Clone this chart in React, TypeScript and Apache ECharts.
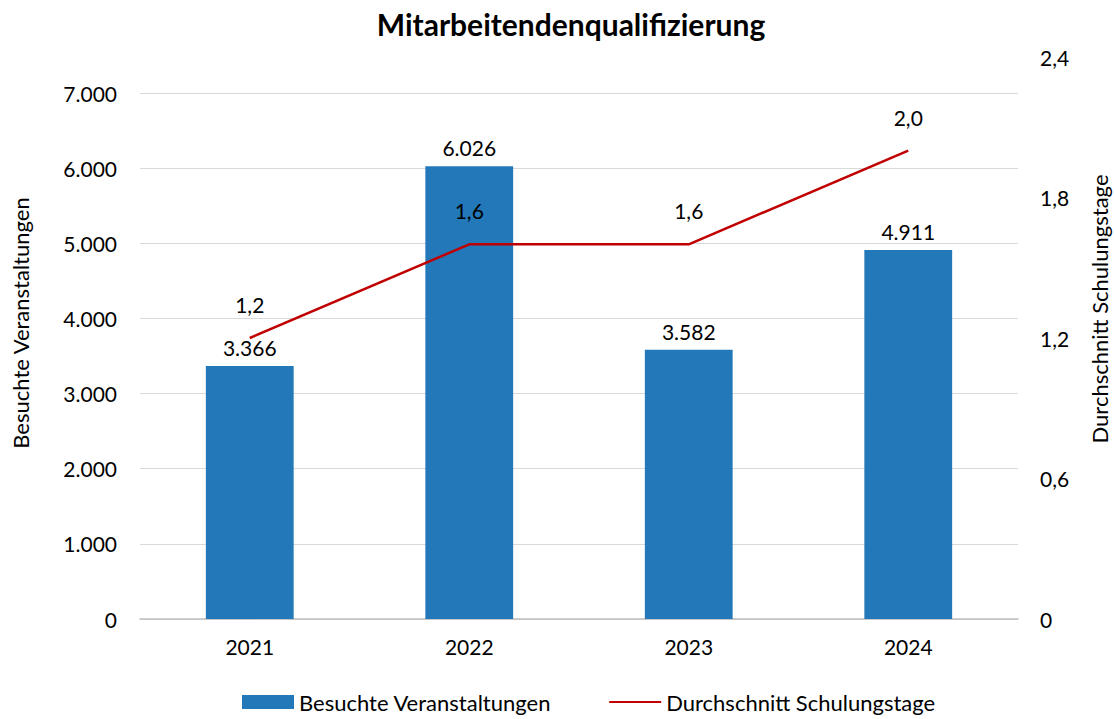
import React, { useEffect, useRef } from "react";
import * as echarts from "echarts";

const title = "Mitarbeitendenqualifizierung";
const years = ["2021", "2022", "2023", "2024"];
const barName = "Besuchte Veranstaltungen";
const lineName = "Durchschnitt Schulungstage";
const visits = [3366, 6026, 3582, 4911];
const trainingDays = [1.2, 1.6, 1.6, 2.0];

const FONT = "Lato, 'Open Sans', sans-serif";

export default function App() {
  const ref = useRef<HTMLDivElement>(null);
  useEffect(() => {
    document.body.style.margin = "0";
    const chart = echarts.init(ref.current!, null, { renderer: "svg" });
    const fmtThousands = (v: number) =>
      Math.round(v).toString().replace(/\B(?=(\d{3})+(?!\d))/g, ".");
    const fmtDec = (v: number) => v.toFixed(1).replace(".", ",");
    chart.setOption({
      animation: false,
      textStyle: { fontFamily: FONT, color: "#000" },
      title: {
        text: title,
        left: 566,
        textAlign: "center",
        top: 4,
        textStyle: { fontFamily: FONT, fontWeight: "bold", fontSize: 30, color: "#000" },
      },
      grid: [
        { left: 140, right: 96, top: 93, bottom: 100 },
        { left: 140, right: 96, top: 57, bottom: 100 },
      ],
      legend: {
        bottom: 1,
        left: 237,
        itemWidth: 52,
        itemHeight: 14,
        itemGap: 57,
        textStyle: { fontFamily: FONT, fontSize: 22, color: "#000" },
        data: [
          { name: barName, icon: "rect" },
          { name: lineName, itemStyle: { opacity: 0 } },
        ],
      },
      xAxis: [
        {
          type: "category",
          gridIndex: 0,
          data: years,
          axisLine: { lineStyle: { color: "#bfbfbf", width: 1.5 } },
          axisTick: { show: false },
          axisLabel: { fontFamily: FONT, fontSize: 21, color: "#000", margin: 17 },
        },
        { type: "category", gridIndex: 1, data: years, show: false },
      ],
      yAxis: [
        {
          type: "value",
          gridIndex: 0,
          min: 0,
          max: 7000,
          interval: 1000,
          axisLine: { show: false },
          axisTick: { show: false },
          splitLine: { lineStyle: { color: "#d9d9d9", width: 1.2 } },
          axisLabel: {
            fontFamily: FONT,
            fontSize: 21,
            color: "#000",
            margin: 23,
            formatter: (v: number) => fmtThousands(v),
          },
        },
        {
          type: "value",
          gridIndex: 1,
          position: "right",
          min: 0,
          max: 2.4,
          interval: 0.6,
          axisLine: { show: false },
          axisTick: { show: false },
          splitLine: { show: false },
          axisLabel: {
            fontFamily: FONT,
            fontSize: 21,
            color: "#000",
            margin: 22,
            formatter: (v: number) => (v === 0 ? "0" : fmtDec(v)),
          },
        },
      ],
      graphic: [
        {
          type: "text",
          rotation: Math.PI / 2,
          x: 20,
          y: 323,
          style: {
            text: barName,
            fontFamily: FONT,
            fontSize: 22,
            fill: "#000",
            align: "center",
            verticalAlign: "middle",
          },
        },
        {
          type: "text",
          rotation: Math.PI / 2,
          x: 1099,
          y: 309,
          style: {
            text: lineName,
            fontFamily: FONT,
            fontSize: 22,
            fill: "#000",
            align: "center",
            verticalAlign: "middle",
          },
        },
      ],
      series: [
        {
          name: barName,
          type: "bar",
          xAxisIndex: 0,
          yAxisIndex: 0,
          data: visits,
          barWidth: "40%",
          itemStyle: { color: "#2278b8" },
          label: {
            show: true,
            position: "top",
            distance: 8,
            fontFamily: FONT,
            fontSize: 21,
            color: "#000",
            formatter: (p: any) => fmtThousands(p.value),
          },
        },
        {
          name: lineName,
          type: "line",
          xAxisIndex: 1,
          yAxisIndex: 1,
          data: trainingDays,
          symbol: "circle",
          symbolSize: 0,
          showSymbol: true,
          lineStyle: { color: "#c00000", width: 2.5 },
          itemStyle: { color: "#c00000" },
          label: {
            show: true,
            position: "top",
            distance: 23,
            fontFamily: FONT,
            fontSize: 21,
            color: "#000",
            formatter: (p: any) => fmtDec(p.value),
          },
        },
      ],
    });
    return () => chart.dispose();
  }, []);
  return <div ref={ref} style={{ width: 1114, height: 719 }} />;
}
